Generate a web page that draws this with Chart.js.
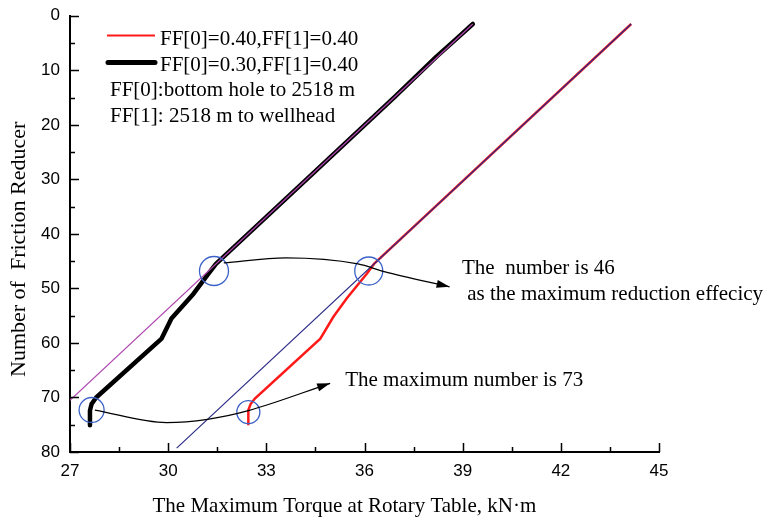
<!DOCTYPE html>
<html>
<head>
    <meta charset="utf-8">
    <title>Friction Reducer vs. Torque</title>
    <style>
        html, body { margin: 0; padding: 0; background: #fff; }
        #chart { display: block; }
    </style>
</head>
<body>
    <canvas id="chart" width="770" height="519"></canvas>

    <script src="https://cdn.jsdelivr.net/npm/chart.js@4"></script>
    <script>
        // axis ticks
        const xTicks = [27, 30, 33, 36, 39, 42, 45];
        const xMinor = [28.5, 31.5, 34.5, 37.5, 40.5, 43.5];
        const yTicks = [0, 10, 20, 30, 40, 50, 60, 70, 80];
        const yMinor = [5, 15, 25, 35, 45, 55, 65, 75];

        // FF[0]=0.40, FF[1]=0.40
        const redX = [32.45, 32.45, 32.52, 32.65, 34.65, 35.05, 35.46, 36.07, 36.29, 44.15];
        const redY = [75.1, 72.3, 71.2, 70.2, 59.2, 55.2, 51.8, 47.3, 45.5, 1.5];

        // FF[0]=0.30, FF[1]=0.40
        const blackX = [27.61, 27.61, 27.66, 27.8, 29.8, 30.1, 30.77, 31.18, 31.46, 34.23, 36.9, 38.2, 38.85, 39.31];
        const blackY = [75.1, 72.4, 71.2, 70.0, 59.2, 55.5, 51.0, 47.7, 45.5, 30, 15, 7.5, 4, 1.5];

        // straight guide lines
        const guideAX = [27, 39.31];
        const guideAY = [70.5, 1.5];
        const guideBX = [30.26, 44.15];
        const guideBY = [79.3, 1.5];

        // circled points
        const ringX = [31.4, 36.13, 27.66, 32.45];
        const ringY = [46.8, 46.8, 72.3, 72.7];

        // arrow curves
        const note46X = [31.7, 33.6, 35.8, 36.6, 38.6];
        const note46Y = [45.3, 44.4, 45.5, 46.9, 49.7];
        const note73X = [27.76, 29.95, 31.2, 32.45, 34.95];
        const note73Y = [72.3, 74.6, 74.0, 72.4, 67.4];

        // text notes, anchored in data units
        const notes = [
            { text: 'The  number is 46', x: 38.98, y: 47.36 },
            { text: ' as the maximum reduction effecicy', x: 38.98, y: 52.05 },
            { text: 'The maximum number is 73', x: 35.41, y: 67.95 }
        ];

        const legendRows = ['FF[0]=0.40,FF[1]=0.40', 'FF[0]=0.30,FF[1]=0.40'];
        const legendNotes = ['FF[0]:bottom hole to 2518 m', 'FF[1]: 2518 m to wellhead'];

        const xTitle = 'The Maximum Torque at Rotary Table, kN\u00b7m';
        const yTitle = 'Number of  Friction Reducer';

        const serif = '"Liberation Serif", "Times New Roman", serif';
        const sans = '"Liberation Sans", Arial, sans-serif';

        function pts(xs, ys) {
            return xs.map((x, i) => ({ x: x, y: ys[i] }));
        }

        const decorations = {
            id: 'decorations',
            afterDatasetsDraw(chart) {
                const ctx = chart.ctx;
                // arrow heads at the end of the note curves
                chart.data.datasets.forEach((ds, i) => {
                    if (!ds.arrow) return;
                    const els = chart.getDatasetMeta(i).data;
                    const tip = els[els.length - 1];
                    const prev = els[els.length - 2];
                    const fx = tip.cp1x !== undefined ? tip.cp1x : prev.x;
                    const fy = tip.cp1y !== undefined ? tip.cp1y : prev.y;
                    const a = Math.atan2(tip.y - fy, tip.x - fx);
                    ctx.save();
                    ctx.translate(tip.x, tip.y);
                    ctx.rotate(a);
                    ctx.beginPath();
                    ctx.moveTo(0, 0);
                    ctx.lineTo(-13, -4);
                    ctx.lineTo(-13, 4);
                    ctx.closePath();
                    ctx.fillStyle = '#000';
                    ctx.fill();
                    ctx.restore();
                });
            },
            afterDraw(chart) {
                const ctx = chart.ctx;
                const xs = chart.scales.x;
                const ys = chart.scales.y;
                const area = chart.chartArea;

                // inward tick marks
                ctx.save();
                ctx.strokeStyle = '#000';
                ctx.lineWidth = 1.5;
                ctx.beginPath();
                xTicks.forEach(v => {
                    const px = Math.round(xs.getPixelForValue(v)) + 0.5;
                    ctx.moveTo(px, area.bottom);
                    ctx.lineTo(px, area.bottom - 9);
                });
                xMinor.forEach(v => {
                    const px = Math.round(xs.getPixelForValue(v)) + 0.5;
                    ctx.moveTo(px, area.bottom);
                    ctx.lineTo(px, area.bottom - 5);
                });
                yTicks.forEach(v => {
                    const py = Math.round(ys.getPixelForValue(v)) + 0.5;
                    ctx.moveTo(area.left, py);
                    ctx.lineTo(area.left + 9, py);
                });
                yMinor.forEach(v => {
                    const py = Math.round(ys.getPixelForValue(v)) + 0.5;
                    ctx.moveTo(area.left, py);
                    ctx.lineTo(area.left + 5, py);
                });
                ctx.stroke();

                // legend
                const lx = area.left, ly = 14;
                ctx.lineCap = 'butt';
                ctx.strokeStyle = '#ff1a1a';
                ctx.lineWidth = 2;
                ctx.beginPath();
                ctx.moveTo(lx + 37, ly + 21.5);
                ctx.lineTo(lx + 85, ly + 21.5);
                ctx.stroke();
                ctx.strokeStyle = '#000';
                ctx.lineWidth = 5;
                ctx.lineCap = 'round';
                ctx.beginPath();
                ctx.moveTo(lx + 38, ly + 48.5);
                ctx.lineTo(lx + 85, ly + 48.5);
                ctx.stroke();

                ctx.fillStyle = '#000';
                ctx.font = '21px ' + serif;
                ctx.textAlign = 'left';
                ctx.textBaseline = 'alphabetic';
                ctx.fillText(legendRows[0], lx + 90, ly + 31);
                ctx.fillText(legendRows[1], lx + 90, ly + 57);
                ctx.fillText(legendNotes[0], lx + 40, ly + 82);
                ctx.fillText(legendNotes[1], lx + 40, ly + 108);

                // notes beside the arrows
                notes.forEach(n => {
                    ctx.fillText(n.text, xs.getPixelForValue(n.x), ys.getPixelForValue(n.y));
                });

                // axis titles
                ctx.fillText(xTitle, 152.5, 512);
                ctx.font = '22px ' + serif;
                ctx.translate(25, 377);
                ctx.rotate(-Math.PI / 2);
                ctx.fillText(yTitle, 0, 0);
                ctx.restore();
            }
        };

        new Chart(document.getElementById('chart'), {
            type: 'line',
            data: {
                // first dataset is painted last, so the notes and guides sit on top
                datasets: [
                    {
                        data: pts(note46X, note46Y),
                        borderColor: '#000',
                        borderWidth: 1.3,
                        pointRadius: 0,
                        cubicInterpolationMode: 'monotone',
                        arrow: true
                    },
                    {
                        data: pts(note73X, note73Y),
                        borderColor: '#000',
                        borderWidth: 1.3,
                        pointRadius: 0,
                        cubicInterpolationMode: 'monotone',
                        arrow: true
                    },
                    {
                        data: pts(ringX, ringY),
                        showLine: false,
                        pointStyle: 'circle',
                        pointRadius: [14.5, 14, 12.5, 11.5],
                        pointBorderColor: '#3c62c8',
                        pointBackgroundColor: 'rgba(0,0,0,0)',
                        pointBorderWidth: 1.3
                    },
                    {
                        data: pts(guideAX, guideAY),
                        borderColor: '#b048b0',
                        borderWidth: 1.2,
                        pointRadius: 0
                    },
                    {
                        data: pts(guideBX, guideBY),
                        borderColor: '#2b2b86',
                        borderWidth: 1.2,
                        pointRadius: 0
                    },
                    {
                        data: pts(blackX, blackY),
                        borderColor: '#000',
                        borderWidth: 4.5,
                        borderCapStyle: 'round',
                        borderJoinStyle: 'round',
                        pointRadius: 0,
                        tension: 0
                    },
                    {
                        data: pts(redX, redY),
                        borderColor: '#ff1a1a',
                        borderWidth: 2.5,
                        pointRadius: 0,
                        tension: 0
                    }
                ]
            },
            options: {
                responsive: false,
                animation: false,
                devicePixelRatio: 1,
                layout: { padding: { left: 0, right: 111, top: 12.5, bottom: 0 } },
                plugins: {
                    legend: { display: false },
                    tooltip: { enabled: false }
                },
                elements: { line: { clip: false } },
                scales: {
                    x: {
                        type: 'linear',
                        min: 27,
                        max: 45,
                        afterBuildTicks: s => { s.ticks = xTicks.map(v => ({ value: v })); },
                        afterFit: s => {
                            s.height = 67;
                            s.paddingLeft = 0;
                            s.paddingRight = 0;
                        },
                        grid: { display: false, drawTicks: false },
                        border: { display: true, color: '#000', width: 2 },
                        ticks: {
                            padding: 9,
                            color: '#000',
                            font: { family: sans, size: 17 },
                            maxRotation: 0
                        }
                    },
                    y: {
                        type: 'linear',
                        reverse: true,
                        min: 0,
                        max: 80,
                        afterBuildTicks: s => { s.ticks = yTicks.map(v => ({ value: v })); },
                        afterFit: s => {
                            s.width = 70;
                            s.paddingTop = 0;
                            s.paddingBottom = 0;
                        },
                        grid: { display: false, drawTicks: false },
                        border: { display: true, color: '#000', width: 2 },
                        ticks: {
                            padding: 10,
                            color: '#000',
                            font: { family: sans, size: 17 }
                        }
                    }
                }
            },
            plugins: [decorations]
        });
    </script>
</body>
</html>
